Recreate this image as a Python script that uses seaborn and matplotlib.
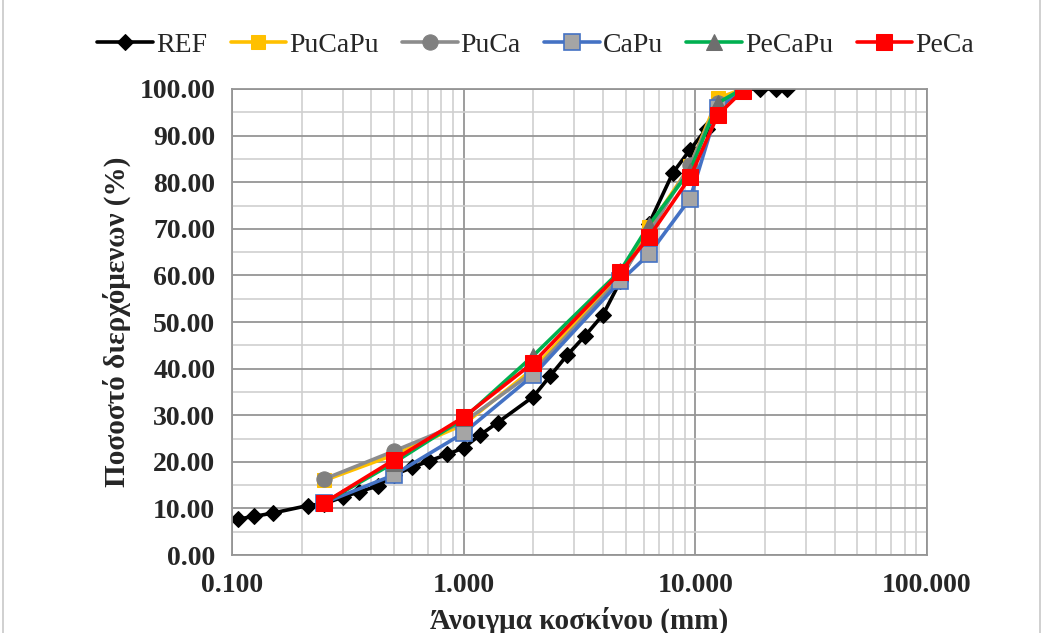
import numpy as np
import pandas as pd
import matplotlib
matplotlib.use('Agg')
import matplotlib.pyplot as plt
import matplotlib.ticker as mticker
from matplotlib.patches import Rectangle
import seaborn as sns

# sieve sizes (mm) and passing percentages
ref_x = [0.106, 0.125, 0.15, 0.212, 0.25, 0.3, 0.355, 0.425, 0.5, 0.6, 0.71, 0.85,
         1.0, 1.18, 1.4, 2.0, 2.36, 2.8, 3.35, 4.0, 4.75, 6.3, 8.0, 9.5, 11.2, 12.5,
         16.0, 19.0, 22.4, 25.0]
ref_y = [7.7, 8.3, 9.0, 10.6, 11.0, 12.4, 13.6, 14.8, 17.2, 18.8, 20.2, 21.6,
         23.0, 25.8, 28.4, 34.0, 38.4, 42.9, 47.1, 51.6, 58.8, 71.0, 82.0, 87.0, 91.5, 96.0,
         100.0, 100.0, 100.0, 100.0]

mix_x = [0.25, 0.5, 1.0, 2.0, 4.75, 6.3, 9.5, 12.5, 16.0]
pucapu = [16.0, 21.5, 28.0, 40.0, 60.0, 70.3, 83.5, 98.0, 100.0]
puca = [16.3, 22.3, 28.5, 39.3, 59.5, 69.0, 83.7, 97.0, 100.0]
capu = [11.2, 17.2, 26.2, 38.6, 58.8, 64.5, 76.5, 96.0, 100.0]
pecapu = [11.2, 19.8, 29.3, 42.8, 61.0, 70.8, 82.5, 97.0, 100.0]
peca = [11.2, 20.4, 29.6, 41.3, 60.7, 68.2, 81.1, 94.4, 99.6]

sns.set_theme(style='white')
plt.rcParams['font.family'] = ['Liberation Serif', 'DejaVu Serif']

fig = plt.figure(figsize=(10.46, 6.33), dpi=100)
ax = fig.add_axes([0.2218, 0.1232, 0.8862 - 0.2218, 0.8594 - 0.1232])

series = [
    ('REF', ref_x, ref_y, dict(color='black', marker='D', markersize=8,
                                markerfacecolor='black', markeredgecolor='black')),
    ('PuCaPu', mix_x, pucapu, dict(color='#FFC000', marker='s', markersize=10,
                                   markerfacecolor='#FFC000', markeredgecolor='#FFC000')),
    ('PuCa', mix_x, puca, dict(color='#8C8C8C', marker='o', markersize=11,
                               markerfacecolor='#808080', markeredgecolor='#808080')),
    ('CaPu', mix_x, capu, dict(color='#4472C4', marker='s', markersize=11,
                               markerfacecolor='#A5A5A5', markeredgecolor='#4472C4',
                               markeredgewidth=1.2)),
    ('PeCaPu', mix_x, pecapu, dict(color='#00B050', marker='^', markersize=11,
                                   markerfacecolor='#6E6E6E', markeredgecolor='#6E6E6E')),
    ('PeCa', mix_x, peca, dict(color='#FF0000', marker='s', markersize=12,
                               markerfacecolor='#FF0000', markeredgecolor='#FF0000')),
]

for name, xs, ys, style in series:
    df = pd.DataFrame({'x': xs, 'y': ys})
    sns.lineplot(data=df, x='x', y='y', ax=ax, label=name, linewidth=2.6, **style)

ax.set_xscale('log')
ax.set_xlim(0.1, 100)
ax.set_ylim(0, 100)
ax.xaxis.set_major_locator(mticker.FixedLocator([0.1, 1, 10, 100]))
ax.xaxis.set_major_formatter(mticker.FuncFormatter(lambda v, p: f'{v:.3f}'))
ax.xaxis.set_minor_locator(mticker.LogLocator(base=10, subs=np.arange(2, 10)))
ax.xaxis.set_minor_formatter(mticker.NullFormatter())
ax.yaxis.set_major_locator(mticker.MultipleLocator(10))
ax.yaxis.set_minor_locator(mticker.MultipleLocator(5))
ax.yaxis.set_major_formatter(mticker.FuncFormatter(lambda v, p: f'{v:.2f}'))

ax.grid(which='major', color='#959595', linewidth=1.3)
ax.grid(which='minor', color='#cfcfcf', linewidth=1.2)
ax.set_axisbelow(True)
for s in ax.spines.values():
    s.set_color('#959595')
    s.set_linewidth(1.3)

ax.tick_params(axis='x', which='major', direction='out', length=6, color='#959595',
               width=1, pad=7, labelsize=20)
ax.tick_params(axis='x', which='minor', length=0)
ax.tick_params(axis='y', which='both', length=0, pad=12, labelsize=20)
for lab in ax.get_xticklabels() + ax.get_yticklabels():
    lab.set_fontweight('bold')

ax.set_xlabel('Άνοιγμα κοσκίνου (mm)', fontsize=21, fontweight='bold', labelpad=6)
ax.set_ylabel('Ποσοστό διερχόμενων (%)', fontsize=21, fontweight='bold', labelpad=6)

handles, labels = ax.get_legend_handles_labels()
ax.get_legend().remove()
fig.legend(handles, labels, loc='center', bbox_to_anchor=(0.512, 0.929), ncol=6,
           frameon=False, fontsize=20, handlelength=2.0, handletextpad=0.1,
           columnspacing=0.85)

fig.add_artist(Rectangle((3 / 1046, -0.02), 1037 / 1046, 1.5, transform=fig.transFigure,
                         fill=False, edgecolor='#c8c8c8', linewidth=1.2))

fig.savefig('out.png', dpi=100)
